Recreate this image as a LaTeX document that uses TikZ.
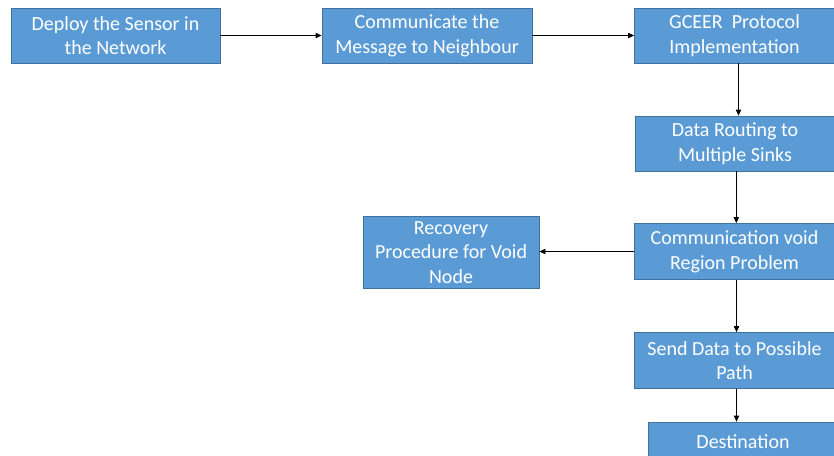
\documentclass[tikz,border=0pt]{standalone}
\usepackage{fontspec}
\setmainfont{Carlito}
\usetikzlibrary{arrows.meta}
\definecolor{boxfill}{HTML}{5B9BD5}
\definecolor{boxline}{HTML}{41719C}
\begin{document}
\begin{tikzpicture}[x=0.75pt,y=-0.75pt,
  flowbox/.style={draw=boxline,line width=0.6pt,fill=boxfill,text=white,inner sep=0pt,align=center,
    font=\fontsize{15}{18.5}\selectfont},
  conn/.style={draw=black,line width=0.6pt,-{Triangle[length=4.5pt,width=4pt]}}]
\useasboundingbox (0,0) rectangle (834,455);
\node[flowbox,minimum width=209*0.75pt,minimum height=55*0.75pt] (deploy) at (115.5,35.5) {Deploy the Sensor in\\the Network};
\node[flowbox,minimum width=210*0.75pt,minimum height=55*0.75pt] (comm) at (427,35.5) {Communicate the\\Message to Neighbour};
\node[flowbox,minimum width=200*0.75pt,minimum height=55*0.75pt] (gceer) at (734.5,35.5) {GCEER\ \ Protocol\\Implementation};
\node[flowbox,minimum width=200*0.75pt,minimum height=55*0.75pt] (route) at (735,143.5) {Data Routing to\\Multiple Sinks};
\node[flowbox,minimum width=201*0.75pt,minimum height=56*0.75pt] (void) at (734.5,251.5) {Communication void\\Region Problem};
\node[flowbox,minimum width=176*0.75pt,minimum height=72*0.75pt] (recov) at (451,252.5) {Recovery\\Procedure for Void\\Node};
\node[flowbox,minimum width=200*0.75pt,minimum height=56*0.75pt] (send) at (734.5,360.5) {Send Data to Possible\\Path};
\node[flowbox,minimum width=190*0.75pt,minimum height=40*0.75pt] (dest) at (743,442) {Destination};
\draw[conn] (deploy.east) -- (comm.west);
\draw[conn] (comm.east) -- (gceer.west);
\draw[conn] ([xshift=3]gceer.south) -- ([xshift=3]gceer.south |- route.north);
\draw[conn] ([xshift=1]route.south) -- ([xshift=1]route.south |- void.north);
\draw[conn] (void.west) -- (void.west -| recov.east);
\draw[conn] ([xshift=1.5]void.south) -- ([xshift=1.5]void.south |- send.north);
\draw[conn] ([xshift=1.5]send.south) -- ([xshift=1.5]send.south |- dest.north);
\end{tikzpicture}
\end{document}
